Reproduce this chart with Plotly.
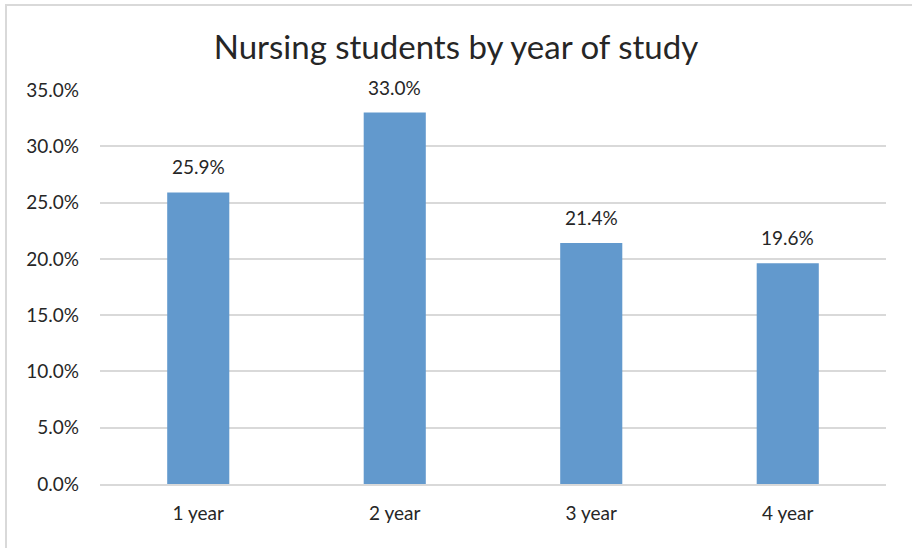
import plotly.graph_objects as go

# Share of nursing students in each year of study
years = ["1 year", "2 year", "3 year", "4 year"]
shares = [0.259, 0.330, 0.214, 0.196]
y_ticks = [0.0, 0.05, 0.10, 0.15, 0.20, 0.25, 0.30, 0.35]

W, H = 912, 548
L, R, T, B = 100, 26, 90, 64
pw, ph = W - L - R, H - T - B

def px_to_paper_x(px):
    return (px - L) / pw

def px_to_paper_y(py):
    return (H - B - py) / ph

FONT = "Lato"
TEXT = "#262626"

fig = go.Figure(
    go.Bar(
        x=years,
        y=shares,
        marker=dict(color="#6299CD", line=dict(width=0)),
        hoverinfo="skip",
    )
)

# Value labels above each bar
for cat, val in zip(years, shares):
    fig.add_annotation(
        x=cat, y=val, text=f"{val * 100:.1f}%",
        showarrow=False, yanchor="bottom", yshift=12,
        font=dict(family=FONT, size=19, color=TEXT),
    )

# Light frame around the chart
fig.add_shape(
    type="rect", xref="paper", yref="paper",
    x0=px_to_paper_x(6), x1=px_to_paper_x(W + 5),
    y0=px_to_paper_y(H + 5), y1=px_to_paper_y(5),
    line=dict(color="#D9D9D9", width=2), layer="below",
)

fig.update_layout(
    width=W, height=H,
    margin=dict(l=L, r=R, t=T, b=B),
    paper_bgcolor="white", plot_bgcolor="white",
    bargap=0.684,
    showlegend=False,
    title=dict(
        text="Nursing students by year of study",
        x=0.5, xref="container", xanchor="center",
        y=1 - 47 / H, yanchor="middle",
        font=dict(family=FONT, size=33, color=TEXT),
    ),
    font=dict(family=FONT, color=TEXT),
)

fig.update_yaxes(
    range=[0, 0.35], tickvals=y_ticks, tickformat=".1%",
    showgrid=True, gridcolor="#D9D9D9", gridwidth=1.5,
    zeroline=False, showline=False, ticks="",
    ticklabelstandoff=20,
    tickfont=dict(family=FONT, size=19, color=TEXT),
)
fig.update_xaxes(
    showgrid=False, showline=True, linecolor="#D9D9D9", linewidth=1.5,
    ticks="", ticklabelstandoff=11,
    tickfont=dict(family=FONT, size=19, color=TEXT),
)

fig.write_html("out.html")
